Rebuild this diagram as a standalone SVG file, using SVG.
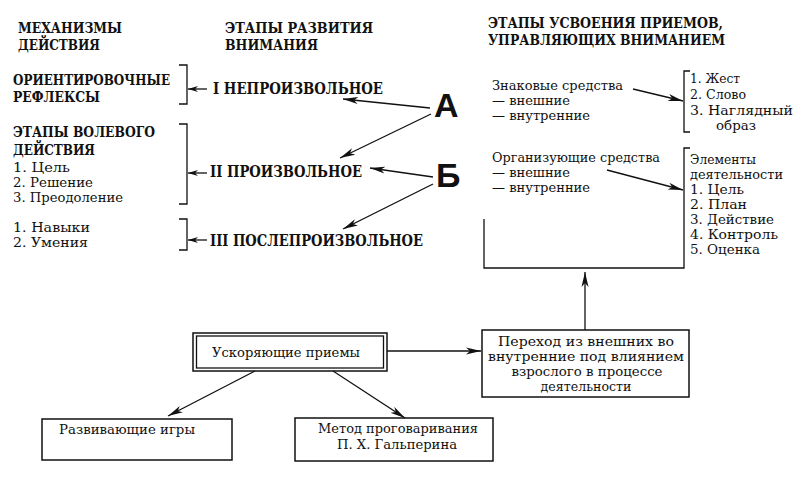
<svg xmlns="http://www.w3.org/2000/svg" width="800" height="479" viewBox="0 0 800 479">
<defs>
<marker id="ah" markerUnits="userSpaceOnUse" markerWidth="16" markerHeight="8" refX="15" refY="4" orient="auto">
<path d="M0,0.5 L15,4 L0,7.5 L4,4 Z" fill="#111"/>
</marker>
<marker id="ahs" markerUnits="userSpaceOnUse" markerWidth="10" markerHeight="6" refX="10" refY="3" orient="auto">
<path d="M0,0 L10,3 L0,6 L3,3 Z" fill="#111"/>
</marker>
<style>
text{fill:#111;font-family:"DejaVu Serif","Liberation Serif",serif}
.h{font-size:14px;font-weight:bold}
.st{font-size:16px;font-weight:bold}
.b{font-size:12.5px}
.big{font-family:"Liberation Sans","DejaVu Sans",sans-serif;font-size:34px;font-weight:bold}
.ln{fill:none;stroke:#111;stroke-width:1.3}
.ar{fill:none;stroke:#111;stroke-width:1.3;marker-end:url(#ah)}
.as{fill:none;stroke:#111;stroke-width:1.3;marker-end:url(#ahs)}
.box{fill:#fff;stroke:#111;stroke-width:1.5}
</style>
</defs>
<rect width="800" height="479" fill="#fff"/>

<g id="col1-title">
<text class="h" x="18" y="33" textLength="104" lengthAdjust="spacingAndGlyphs">МЕХАНИЗМЫ</text>
<text class="h" x="18" y="50" textLength="82" lengthAdjust="spacingAndGlyphs">ДЕЙСТВИЯ</text>
</g>
<g id="col2-title">
<text class="h" x="225" y="33" textLength="148" lengthAdjust="spacingAndGlyphs">ЭТАПЫ РАЗВИТИЯ</text>
<text class="h" x="225" y="50" textLength="93" lengthAdjust="spacingAndGlyphs">ВНИМАНИЯ</text>
</g>
<g id="col3-title">
<text class="h" x="488" y="28" textLength="235" lengthAdjust="spacingAndGlyphs">ЭТАПЫ УСВОЕНИЯ ПРИЕМОВ,</text>
<text class="h" x="488" y="45" textLength="237" lengthAdjust="spacingAndGlyphs">УПРАВЛЯЮЩИХ ВНИМАНИЕМ</text>
</g>

<g id="reflexes">
<text class="h" x="13" y="85" textLength="157" lengthAdjust="spacingAndGlyphs">ОРИЕНТИРОВОЧНЫЕ</text>
<text class="h" x="13" y="102" textLength="87" lengthAdjust="spacingAndGlyphs">РЕФЛЕКСЫ</text>
<path class="ln" d="M179,65 H187 V104 H179"/>
</g>
<g id="volitional">
<text class="h" x="13" y="137" textLength="142" lengthAdjust="spacingAndGlyphs">ЭТАПЫ ВОЛЕВОГО</text>
<text class="h" x="13" y="155" textLength="82" lengthAdjust="spacingAndGlyphs">ДЕЙСТВИЯ</text>
<text class="b" x="13" y="172" textLength="57" lengthAdjust="spacingAndGlyphs">1. Цель</text>
<text class="b" x="13" y="187" textLength="80" lengthAdjust="spacingAndGlyphs">2. Решение</text>
<text class="b" x="13" y="202" textLength="110" lengthAdjust="spacingAndGlyphs">3. Преодоление</text>
<path class="ln" d="M179,124 H187 V204 H179"/>
</g>
<g id="skills">
<text class="b" x="13" y="232" textLength="77" lengthAdjust="spacingAndGlyphs">1. Навыки</text>
<text class="b" x="13" y="247" textLength="75" lengthAdjust="spacingAndGlyphs">2. Умения</text>
<path class="ln" d="M179,219 H187 V250 H179"/>
</g>

<g id="stage1"><text class="st" x="213" y="94" textLength="170" lengthAdjust="spacingAndGlyphs">I НЕПРОИЗВОЛЬНОЕ</text></g>
<g id="stage2"><text class="st" x="210" y="177" textLength="152" lengthAdjust="spacingAndGlyphs">II ПРОИЗВОЛЬНОЕ</text></g>
<g id="stage3"><text class="st" x="210" y="246" textLength="213" lengthAdjust="spacingAndGlyphs">III ПОСЛЕПРОИЗВОЛЬНОЕ</text></g>

<g id="A"><text class="big" x="434" y="117">А</text></g>
<g id="B"><text class="big" x="436" y="187">Б</text></g>

<g id="sign-means">
<text class="b" x="492" y="90" textLength="131" lengthAdjust="spacingAndGlyphs">Знаковые средства</text>
<text class="b" x="492" y="105" textLength="78" lengthAdjust="spacingAndGlyphs">— внешние</text>
<text class="b" x="492" y="120" textLength="98" lengthAdjust="spacingAndGlyphs">— внутренние</text>
</g>
<g id="sign-list">
<path class="ln" d="M690,71 H684 V132 H690"/>
<text class="b" x="690" y="83" textLength="50" lengthAdjust="spacingAndGlyphs">1. Жест</text>
<text class="b" x="690" y="99" textLength="56" lengthAdjust="spacingAndGlyphs">2. Слово</text>
<text class="b" x="690" y="115" textLength="103" lengthAdjust="spacingAndGlyphs">3. Наглядный</text>
<text class="b" x="716" y="130" textLength="40" lengthAdjust="spacingAndGlyphs">образ</text>
</g>
<g id="org-means">
<text class="b" x="492" y="162" textLength="168" lengthAdjust="spacingAndGlyphs">Организующие средства</text>
<text class="b" x="492" y="177" textLength="78" lengthAdjust="spacingAndGlyphs">— внешние</text>
<text class="b" x="492" y="192" textLength="98" lengthAdjust="spacingAndGlyphs">— внутренние</text>
</g>
<g id="activity-list">
<text class="b" x="690" y="164" textLength="66" lengthAdjust="spacingAndGlyphs">Элементы</text>
<text class="b" x="690" y="179" textLength="93" lengthAdjust="spacingAndGlyphs">деятельности</text>
<text class="b" x="690" y="194" textLength="54" lengthAdjust="spacingAndGlyphs">1. Цель</text>
<text class="b" x="690" y="209" textLength="57" lengthAdjust="spacingAndGlyphs">2. План</text>
<text class="b" x="690" y="224" textLength="84" lengthAdjust="spacingAndGlyphs">3. Действие</text>
<text class="b" x="690" y="239" textLength="88" lengthAdjust="spacingAndGlyphs">4. Контроль</text>
<text class="b" x="690" y="254" textLength="70" lengthAdjust="spacingAndGlyphs">5. Оценка</text>
</g>
<g id="stage-frame">
<path class="ln" d="M690,148 H684 V268 H484 V219"/>
</g>

<g id="transition">
<rect class="box" x="482" y="330" width="207" height="67"/>
<text class="b" x="586" y="346" text-anchor="middle" textLength="176" lengthAdjust="spacingAndGlyphs">Переход из внешних во</text>
<text class="b" x="586" y="361" text-anchor="middle" textLength="196" lengthAdjust="spacingAndGlyphs">внутренние под влиянием</text>
<text class="b" x="587" y="376" text-anchor="middle" textLength="151" lengthAdjust="spacingAndGlyphs">взрослого в процессе</text>
<text class="b" x="586" y="391" text-anchor="middle" textLength="91" lengthAdjust="spacingAndGlyphs">деятельности</text>
</g>
<g id="accelerating">
<rect class="box" x="193" y="333" width="194" height="38" stroke-width="2"/>
<rect class="ln" x="196.5" y="336" width="187" height="32" stroke-width="1"/>
<text class="b" x="212" y="357" textLength="148" lengthAdjust="spacingAndGlyphs">Ускоряющие приемы</text>
</g>
<g id="games">
<rect class="box" x="42" y="419" width="190" height="41"/>
<text class="b" x="59" y="434" textLength="136" lengthAdjust="spacingAndGlyphs">Развивающие игры</text>
</g>
<g id="galperin">
<rect class="box" x="295" y="418" width="198" height="43"/>
<text class="b" x="398" y="433" text-anchor="middle" textLength="160" lengthAdjust="spacingAndGlyphs">Метод проговаривания</text>
<text class="b" x="397" y="449" text-anchor="middle" textLength="120" lengthAdjust="spacingAndGlyphs">П. Х. Гальперина</text>
</g>

<g id="connectors">
<line class="as" x1="207" y1="89" x2="188" y2="89"/>
<line class="as" x1="207" y1="173" x2="188" y2="173"/>
<line class="as" x1="207" y1="240" x2="188" y2="240"/>
<line class="ar" x1="430" y1="108" x2="343" y2="99"/>
<line class="ar" x1="431" y1="114" x2="340" y2="158"/>
<line class="ar" x1="433" y1="177" x2="370" y2="168"/>
<line class="ar" x1="433" y1="184" x2="343" y2="229"/>
<line class="ar" x1="633" y1="89" x2="683" y2="101"/>
<line class="ar" x1="607" y1="170" x2="683" y2="190"/>
<line class="ar" x1="585" y1="330" x2="585" y2="272"/>
<line class="ar" x1="387" y1="351" x2="481" y2="351"/>
<line class="ar" x1="255" y1="371" x2="168" y2="416"/>
<line class="ar" x1="333" y1="371" x2="405" y2="418"/>
</g>
</svg>
